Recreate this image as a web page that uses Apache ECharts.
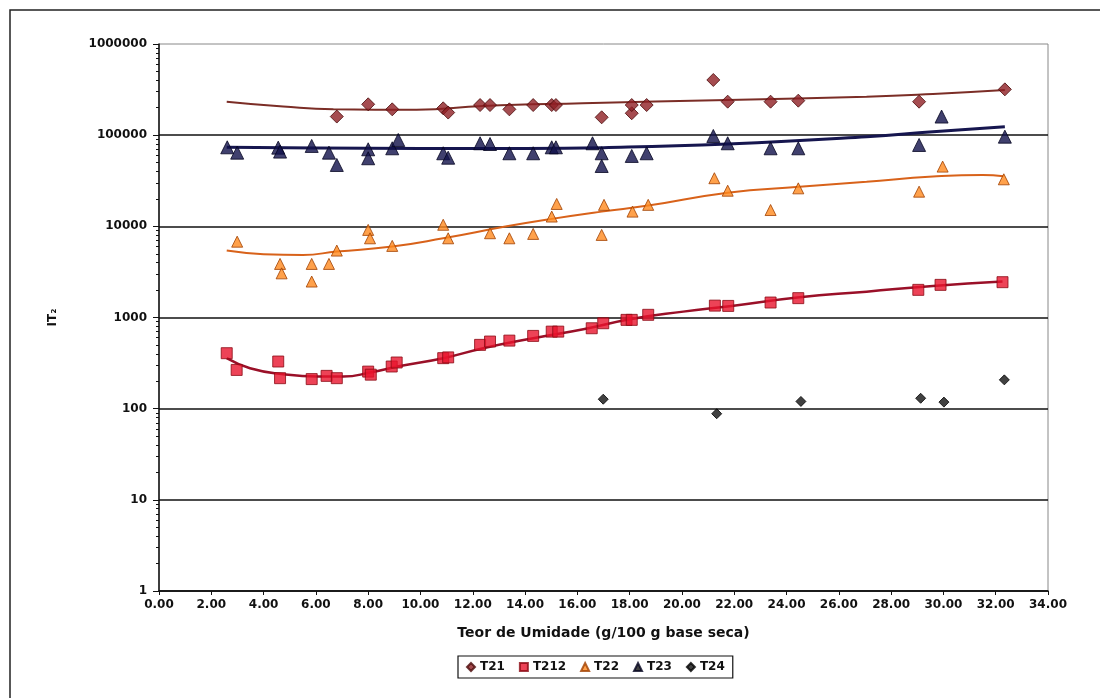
<!DOCTYPE html>
<html>
<head>
<meta charset="utf-8">
<style>
  html, body { margin: 0; padding: 0; background: #fff; }
  #chart { width: 1100px; height: 698px; }
</style>
<script src="https://cdn.jsdelivr.net/npm/echarts@6/dist/echarts.min.js"></script>
</head>
<body>
<div id="chart"></div>
<script>
// measured points [moisture, value]
const t21 = [
  [6.80, 160000], [8.00, 218000], [8.92, 192000], [10.87, 197000], [11.06, 177000],
  [12.28, 214000], [12.66, 214000], [13.40, 192000], [14.31, 214000], [15.02, 214000],
  [15.18, 214000], [16.93, 157000], [18.08, 174000], [18.08, 214000], [18.65, 214000],
  [21.20, 403000], [21.75, 233000], [23.39, 233000], [24.45, 239000], [29.07, 233000],
  [32.35, 318000]
]
const t212 = [
  [2.59, 406], [2.97, 266], [4.56, 329], [4.63, 216], [5.84, 211], [6.41, 229],
  [6.80, 216], [8.00, 255], [8.10, 236], [8.90, 290], [9.09, 321], [10.87, 358],
  [11.06, 365], [12.28, 501], [12.66, 545], [13.40, 558], [14.31, 628], [15.02, 700],
  [15.27, 700], [16.55, 762], [16.99, 865], [17.88, 942], [18.08, 942], [18.71, 1070],
  [21.26, 1350], [21.77, 1340], [23.39, 1460], [24.45, 1630], [29.04, 2010],
  [29.89, 2280], [32.26, 2440]
]
const t22 = [
  [2.99, 6790], [4.63, 3870], [4.69, 3050], [5.84, 3870], [5.84, 2480], [6.50, 3870],
  [6.80, 5420], [8.00, 9140], [8.07, 7390], [8.92, 6100], [10.87, 10400], [11.06, 7390],
  [12.66, 8400], [13.40, 7390], [14.31, 8260], [15.02, 12800], [15.21, 17600],
  [16.93, 8050], [17.02, 17200], [18.11, 14500], [18.71, 17200], [21.24, 33700],
  [21.75, 24600], [23.39, 15100], [24.45, 26100], [29.07, 24000], [29.97, 45200],
  [32.31, 32800]
]
const t23 = [
  [2.61, 73600], [2.99, 64300], [4.56, 73000], [4.63, 66000], [5.84, 76200],
  [6.50, 64300], [6.80, 47100], [8.00, 70000], [8.00, 55800], [8.92, 71800],
  [9.15, 88600], [10.87, 63300], [11.06, 56600], [12.28, 81500], [12.66, 80000],
  [13.40, 63300], [14.31, 63300], [15.02, 73600], [15.18, 73600], [16.58, 81500],
  [16.93, 63300], [16.93, 45900], [18.08, 59200], [18.65, 63300], [21.20, 98000],
  [21.75, 81500], [23.39, 71800], [24.45, 71800], [29.07, 78100], [29.93, 160000],
  [32.35, 96300]
]
const t24 = [
  [16.99, 127], [21.33, 88], [24.55, 120], [29.13, 130], [30.02, 118], [32.33, 207]
]

// trend lines
const t21Trend = [
  [2.59, 233000], [4.75, 206000], [6.67, 192000], [9.85, 190000], [12.4, 209000],
  [16.2, 224000], [21.75, 243000], [27.06, 264000], [29.6, 283000], [32.35, 313000]
]
const t212Trend = [
  [2.59, 358], [3.48, 278], [4.75, 239], [6.03, 225], [7.05, 225], [8.07, 249],
  [9.22, 294], [10.87, 358], [12.4, 461], [14.31, 593], [16.23, 745], [18.01, 957],
  [20.05, 1160], [21.9, 1340], [24.5, 1670], [27.06, 1920], [29.6, 2220], [32.26, 2480]
]
const t22Trend = [
  [2.59, 5420], [4.0, 4950], [5.5, 4860], [6.8, 5290], [8.92, 6000], [10.87, 7390],
  [13.3, 10000], [14.96, 12000], [16.93, 14500], [18.71, 16900], [21.75, 23400],
  [24.5, 27200], [27.06, 30900], [29.6, 35100], [31.5, 36600], [32.3, 35500]
]
const t23Trend = [
  [2.59, 73600], [6.0, 72500], [10.0, 71500], [14.0, 71500], [17.0, 73000],
  [21.75, 80000], [27.06, 96000], [29.6, 109000], [32.35, 124000]
]

const xTicks = { min: 0, max: 34, step: 2 }
const decades = [1, 10, 100, 1000, 10000, 100000]
const minorSteps = [2, 3, 4, 5, 6, 7, 8, 9]

const minorTicks = []
decades.forEach(d => minorSteps.forEach(m => minorTicks.push(Math.log10(d * m))))

const font = 'DejaVu Sans'
const labelStyle = { color: '#111', fontFamily: font, fontWeight: 'bold', fontSize: 12 }

const chart = echarts.init(document.getElementById('chart'))

const scatter = (name, data, symbol, size, fill, border) => ({
  name, type: 'scatter', data, symbol, symbolSize: size, z: 4,
  itemStyle: { color: fill, borderColor: border, borderWidth: 1 }
})
const trend = (data, color, width) => ({
  type: 'line', data, smooth: 0.5, showSymbol: false, silent: true, z: 3,
  lineStyle: { color, width }
})

chart.setOption({
  animation: false,
  backgroundColor: '#fff',
  graphic: [{
    type: 'rect', shape: { x: 10, y: 10, width: 1200, height: 800 },
    style: { fill: 'none', stroke: '#222', lineWidth: 1.5 }, silent: true
  }],
  grid: {
    left: 159, top: 44, width: 889, height: 547,
    show: true, borderColor: '#888', borderWidth: 1
  },
  legend: {
    left: 458, top: 656,
    padding: [5, 8], itemGap: 14, itemWidth: 8, itemHeight: 8,
    borderColor: '#111', borderWidth: 1.2,
    textStyle: { ...labelStyle },
    data: [
      { name: 'T21', icon: 'diamond', itemStyle: { color: '#8E1F24' } },
      { name: 'T212', icon: 'rect', itemStyle: { color: '#E8142D' } },
      { name: 'T22', icon: 'triangle', itemStyle: { color: '#FF8A1E' } },
      { name: 'T23', icon: 'triangle', itemStyle: { color: '#111' } },
      { name: 'T24', icon: 'diamond', itemStyle: { color: '#111' } }
    ]
  },
  xAxis: {
    type: 'value', min: xTicks.min, max: xTicks.max, interval: xTicks.step,
    name: 'Teor de Umidade (g/100 g base seca)',
    nameLocation: 'middle', nameGap: 35,
    nameTextStyle: { ...labelStyle, fontSize: 14 },
    axisLine: { lineStyle: { color: '#111', width: 1.5 } },
    axisTick: { show: true, length: 4, lineStyle: { color: '#111' } },
    axisLabel: { ...labelStyle, margin: 8, formatter: v => v.toFixed(2) },
    splitLine: { show: false }
  },
  yAxis: [{
    type: 'log', logBase: 10, min: 1, max: 1000000,
    name: 'IT₂', nameLocation: 'middle', nameGap: 100,
    nameTextStyle: { ...labelStyle },
    axisLine: { show: true, lineStyle: { color: '#111', width: 1.5 } },
    axisTick: { show: true, length: 6, lineStyle: { color: '#111' } },
    axisLabel: { ...labelStyle, margin: 12, formatter: v => String(Math.round(v)) },
    splitLine: { show: true, showMaxLine: false, lineStyle: { color: '#111', width: 1.5 } }
  }, {
    type: 'value', min: 0, max: 6, position: 'left',
    axisLine: { show: false },
    axisLabel: { show: false },
    splitLine: { show: false },
    axisTick: { show: true, length: 3, customValues: minorTicks, lineStyle: { color: '#111' } }
  }],
  series: [
    trend(t21Trend, '#7B2D26', 2),
    trend(t212Trend, '#9A1028', 2.5),
    trend(t22Trend, '#D8621A', 2),
    trend(t23Trend, '#16164F', 3),
    scatter('T21', t21, 'diamond', 13, '#8E1F24', '#4A0A0A'),
    scatter('T212', t212, 'rect', 11, '#E8142D', '#8B0A14'),
    scatter('T22', t22, 'triangle', 11, '#FF8A1E', '#A04000'),
    scatter('T23', t23, 'triangle', 13, '#10104A', '#050520'),
    scatter('T24', t24, 'diamond', 10, '#111', '#000')
  ]
})
</script>
</body>
</html>
